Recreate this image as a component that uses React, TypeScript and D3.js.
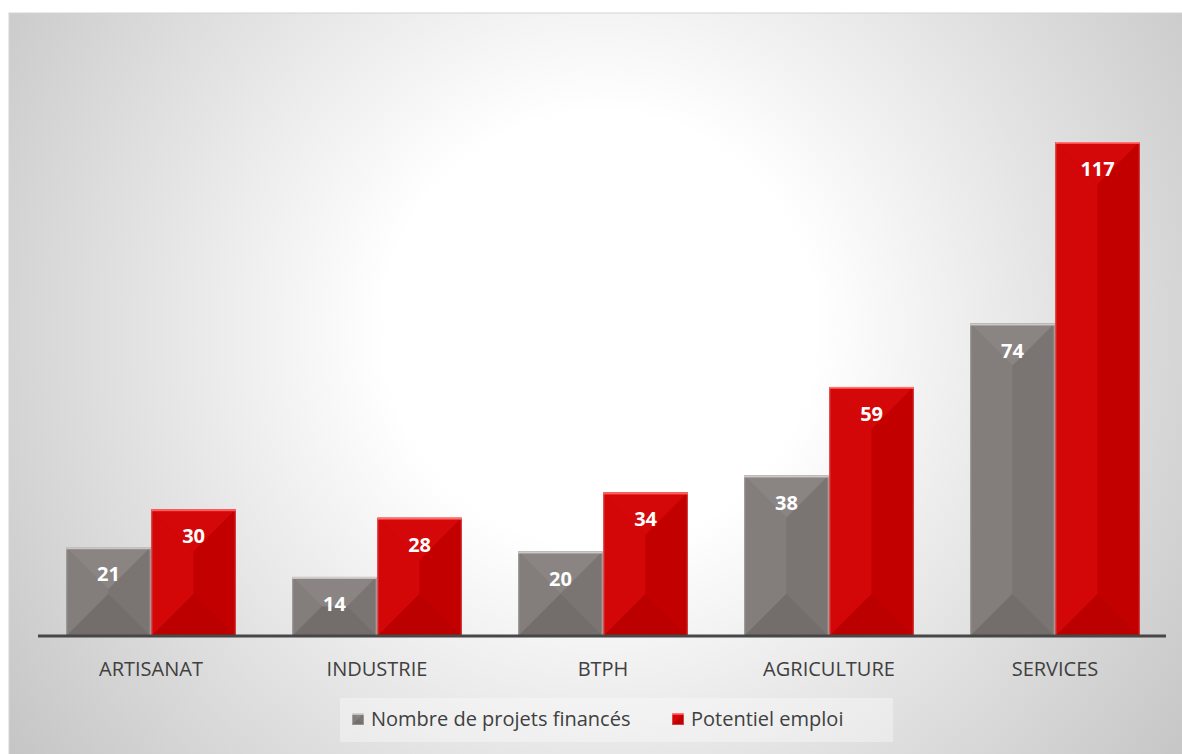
import React from "react";
import * as d3 from "d3";

const categories = ["ARTISANAT", "INDUSTRIE", "BTPH", "AGRICULTURE", "SERVICES"];
const projets = [21, 14, 20, 38, 74];
const emplois = [30, 28, 34, 59, 117];
const seriesNames = ["Nombre de projets financés", "Potentiel emploi"];

const W = 1182;
const H = 754;
const FONT = "'Open Sans', 'DejaVu Sans', sans-serif";

const palettes = [
  { base: "#7f7a78", top: "#8a8583", left: "#837e7c", right: "#7a7573", bottom: "#736e6c", edge: "#c4c0bf" },
  { base: "#cc0202", top: "#d40808", left: "#d30707", right: "#c30000", bottom: "#bc0000", edge: "#ff4a4a" },
];

function BevelBar({ x, y, w, h, p }: { x: number; y: number; w: number; h: number; p: any }) {
  const d = Math.min(w / 2, h / 2, 42);
  const x2 = x + w, y2 = y + h;
  const pts = (a: number[][]) => a.map((q) => q.join(",")).join(" ");
  return (
    <g>
      <rect x={x} y={y} width={w} height={h} fill={p.base} />
      <polygon points={pts([[x, y], [x2, y], [x2 - d, y + d], [x + d, y + d]])} fill={p.top} />
      <polygon points={pts([[x, y], [x + d, y + d], [x + d, y2 - d], [x, y2]])} fill={p.left} />
      <polygon points={pts([[x2, y], [x2, y2], [x2 - d, y2 - d], [x2 - d, y + d]])} fill={p.right} />
      <polygon points={pts([[x, y2], [x + d, y2 - d], [x2 - d, y2 - d], [x2, y2]])} fill={p.bottom} />
      <rect x={x + d} y={y + d} width={Math.max(0, w - 2 * d)} height={Math.max(0, h - 2 * d)} fill={p.base} />
      <line x1={x} x2={x2} y1={y + 1} y2={y + 1} stroke={p.edge} strokeWidth={2} />
      <rect x={x + 0.5} y={y + 0.5} width={w - 1} height={h - 1} fill="none" stroke="#ffffff" strokeOpacity={0.25} strokeWidth={1} />
    </g>
  );
}

export default function App() {
  const x0 = d3.scaleBand<string>().domain(categories).range([38, 1168]).paddingInner(0.25).paddingOuter(0.125);
  const x1 = d3.scaleBand<number>().domain([0, 1]).range([0, x0.bandwidth()]).paddingInner(0.01);
  const y = d3.scaleLinear().domain([0, 140]).range([636, 45]);
  const series = [projets, emplois];

  return (
    <svg width={W} height={H} style={{ position: "absolute", left: 0, top: 0 }} fontFamily={FONT}>
      <defs>
        <radialGradient id="bg" gradientUnits="userSpaceOnUse" cx={600} cy={330} r={720}>
          <stop offset="0" stopColor="#ffffff" />
          <stop offset="0.3" stopColor="#ffffff" />
          <stop offset="0.65" stopColor="#e2e2e2" />
          <stop offset="1" stopColor="#c6c6c6" />
        </radialGradient>
      </defs>
      <rect x={0} y={0} width={W} height={H} fill="#ffffff" />
      <rect x={9} y={13} width={W} height={H} fill="url(#bg)" stroke="#d4d4d4" strokeWidth={1} />

      {categories.map((c, i) =>
        series.map((s, k) => {
          const bx = (x0(c) as number) + (x1(k) as number);
          const bw = x1.bandwidth();
          const by = y(s[i]);
          const bh = y(0) - by;
          return (
            <g key={c + k}>
              <BevelBar x={bx} y={by} w={bw} h={bh} p={palettes[k]} />
              <text x={bx + bw / 2} y={by + 34} textAnchor="middle" fill="#ffffff" fontWeight="bold" fontSize={20}>
                {s[i]}
              </text>
            </g>
          );
        })
      )}

      <line x1={38} x2={1166} y1={636} y2={636} stroke="#474747" strokeWidth={3} />

      {categories.map((c) => (
        <text key={c} x={(x0(c) as number) + x0.bandwidth() / 2} y={676} textAnchor="middle" fill="#404040" fontSize={20}>
          {c}
        </text>
      ))}

      <rect x={340} y={698} width={553} height={44} fill="#ffffff" fillOpacity={0.35} />
      {seriesNames.map((n, k) => {
        const lx = k === 0 ? 352 : 672;
        const p = palettes[k];
        return (
          <g key={n}>
            <BevelBar x={lx} y={713} w={12} h={12} p={p} />
            <text x={lx + 19} y={726} fill="#404040" fontSize={20}>
              {n}
            </text>
          </g>
        );
      })}
    </svg>
  );
}
